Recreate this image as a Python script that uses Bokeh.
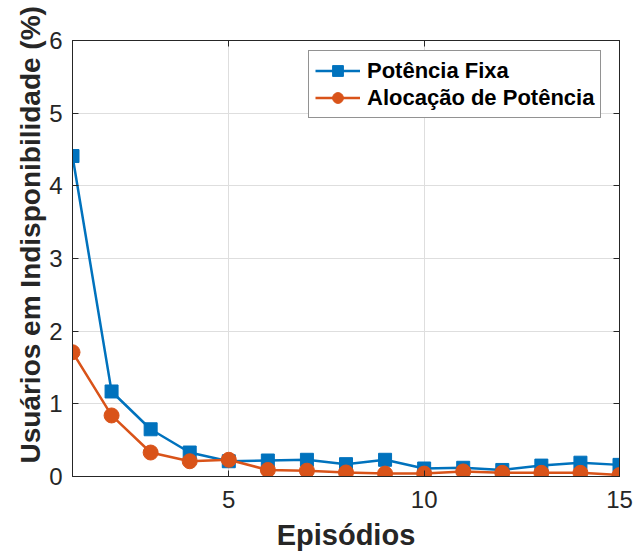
from bokeh.plotting import figure
from bokeh.models import LinearAxis, FixedTicker, Range1d, Title
from bokeh.embed import file_html
from bokeh.resources import INLINE

episodes = list(range(1, 16))
potencia_fixa = [4.41, 1.17, 0.65, 0.33, 0.21, 0.22, 0.23, 0.17, 0.23, 0.11, 0.12, 0.09, 0.15, 0.19, 0.16]
alocacao = [1.71, 0.84, 0.33, 0.21, 0.23, 0.09, 0.08, 0.055, 0.04, 0.04, 0.07, 0.05, 0.05, 0.05, 0.02]
x_ticks = [5, 10, 15]
y_ticks = [0, 1, 2, 3, 4, 5, 6]

BLUE = "#0072BD"
ORANGE = "#D95319"
DARK = "#262626"
FONT = "Liberation Sans"

p = figure(width=636, height=556, output_backend="svg", toolbar_location=None,
           x_range=Range1d(1, 15), y_range=Range1d(0, 6),
           min_border_left=72, min_border_right=17, min_border_top=40, min_border_bottom=80,
           x_axis_label="Episódios")
p.outline_line_color = DARK
p.outline_line_width = 1

for ax in (p.xaxis[0], p.yaxis[0]):
    ax.major_tick_in = 6
    ax.major_tick_out = 0
    ax.minor_tick_in = 0
    ax.minor_tick_out = 0
    ax.axis_line_color = DARK
    ax.major_tick_line_color = DARK
    ax.major_label_text_font = FONT
    ax.major_label_text_font_size = "24px"
    ax.major_label_text_color = DARK
    ax.axis_label_text_font = FONT
    ax.axis_label_text_font_style = "bold"
    ax.axis_label_text_color = DARK

p.xaxis[0].ticker = FixedTicker(ticks=x_ticks)
p.yaxis[0].ticker = FixedTicker(ticks=y_ticks)
p.xaxis[0].axis_label_text_font_size = "29px"
p.xaxis[0].axis_label_standoff = 8
p.xaxis[0].major_label_standoff = 14
p.yaxis[0].major_label_standoff = 10

# y-axis title, starting just above the bottom of the plot frame
ytitle = Title(text="Usuários em Indisponibilidade (%)", align="left", offset=13,
               text_font=FONT, text_font_size="28px", text_font_style="bold",
               text_color=DARK, standoff=2)
p.add_layout(ytitle, "left")

# mirrored tick marks on top and right of the box
top = LinearAxis(ticker=FixedTicker(ticks=x_ticks), major_label_text_alpha=0,
                 major_tick_in=6, major_tick_out=0, minor_tick_in=0, minor_tick_out=0,
                 axis_line_color=DARK, major_tick_line_color=DARK,
                 major_label_text_font_size="1px")
right = LinearAxis(ticker=FixedTicker(ticks=y_ticks), major_label_text_alpha=0,
                   major_tick_in=6, major_tick_out=0, minor_tick_in=0, minor_tick_out=0,
                   axis_line_color=DARK, major_tick_line_color=DARK,
                   major_label_text_font_size="1px")
p.add_layout(top, "above")
p.add_layout(right, "right")

p.xgrid.ticker = FixedTicker(ticks=x_ticks)
p.ygrid.ticker = FixedTicker(ticks=y_ticks)
p.grid.grid_line_color = "#dedede"
p.grid.grid_line_width = 1

p.line(episodes, potencia_fixa, color=BLUE, line_width=2.5, legend_label="Potência Fixa")
p.scatter(episodes, potencia_fixa, marker="square", size=13, color=BLUE, legend_label="Potência Fixa")
p.line(episodes, alocacao, color=ORANGE, line_width=2.5, legend_label="Alocação de Potência")
p.scatter(episodes, alocacao, marker="circle", size=15, color=ORANGE, legend_label="Alocação de Potência")

lg = p.legend[0]
lg.location = (236, 358)
lg.label_text_font = FONT
lg.label_text_font_style = "bold"
lg.label_text_font_size = "22px"
lg.label_text_color = "black"
lg.glyph_width = 45
lg.glyph_height = 27
lg.label_height = 27
lg.label_standoff = 7
lg.padding = 6
lg.spacing = 0
lg.margin = 0
lg.border_line_color = DARK
lg.border_line_width = 1
lg.background_fill_alpha = 1

open("out.html", "w").write(file_html(p, INLINE))
